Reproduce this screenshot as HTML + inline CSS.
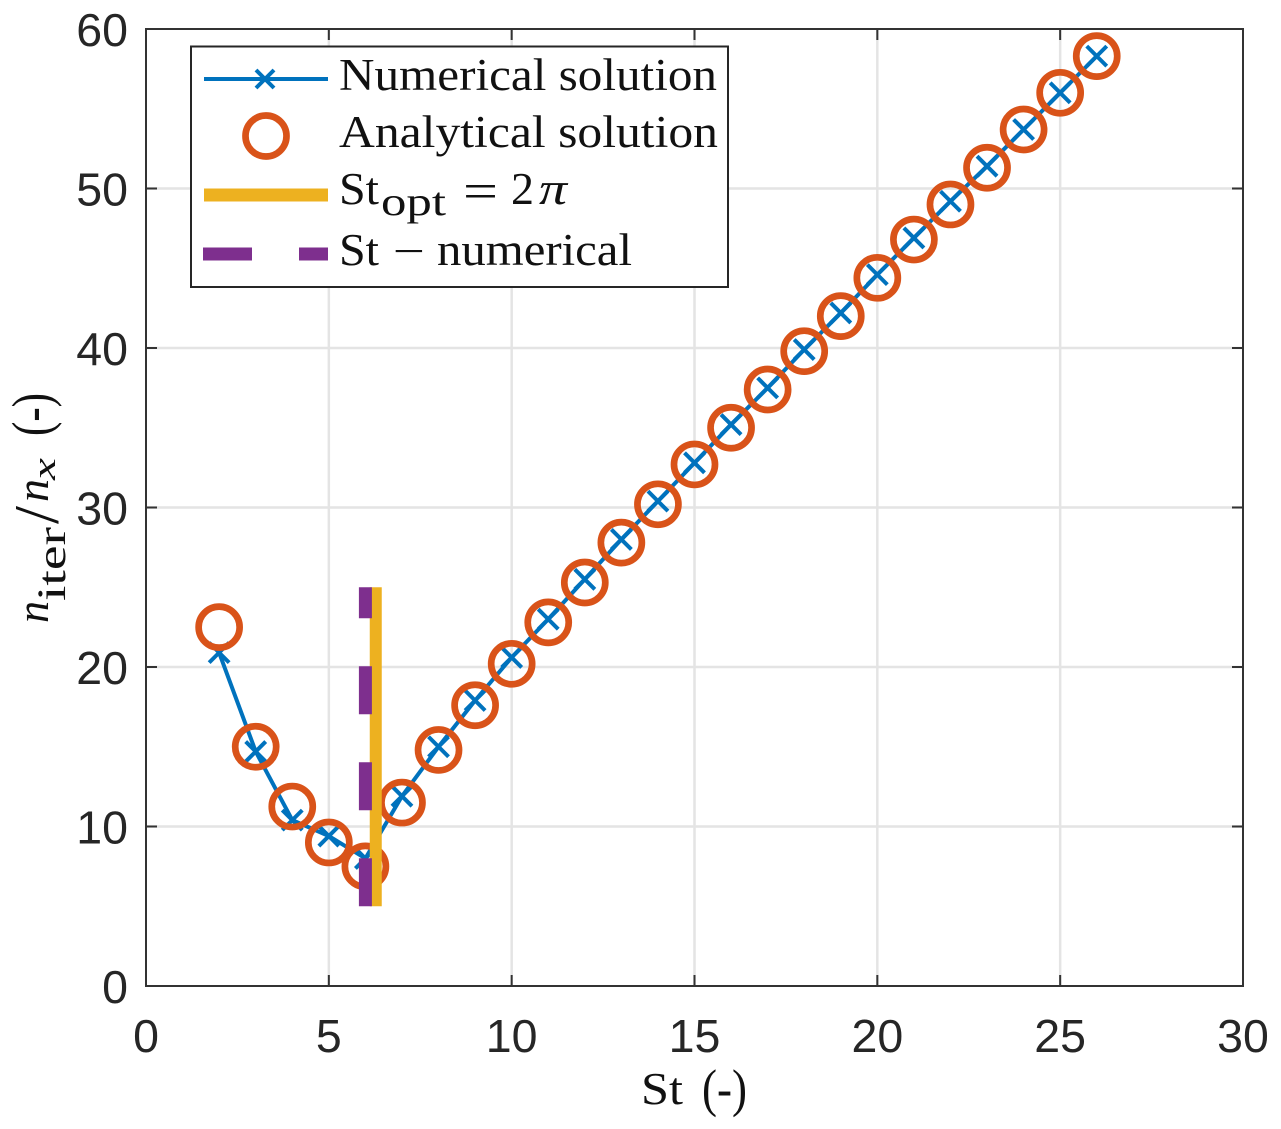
<!DOCTYPE html>
<html>
<head>
<meta charset="utf-8">
<style>
html,body{margin:0;padding:0;background:#fff;}
svg{display:block;}
.tick{font-family:"Liberation Sans",sans-serif;font-size:46.5px;fill:#262626;}
.tex{font-family:"Liberation Serif",serif;fill:#111;}
</style>
</head>
<body>
<svg id="chart" xmlns="http://www.w3.org/2000/svg" width="1281" height="1129" viewBox="0 0 1281 1129">
  <g id="grid"></g>
  <g id="series"></g>
  <g id="axes"></g>
  <g>
    <text class="tex" x="641" y="1104" font-size="46" textLength="42" lengthAdjust="spacingAndGlyphs">St</text>
    <text class="tex" x="702" y="1106" font-size="53" textLength="45" lengthAdjust="spacingAndGlyphs">(-)</text>
  </g>
  <g transform="translate(48,0) rotate(-90)">
    <text class="tex" x="-623" y="0" font-size="46" font-style="italic" textLength="22" lengthAdjust="spacingAndGlyphs">n</text>
    <text class="tex" x="-601" y="17" font-size="40" textLength="74" lengthAdjust="spacingAndGlyphs">iter</text>
    <text class="tex" x="-524" y="10" font-size="64" textLength="18" lengthAdjust="spacingAndGlyphs">/</text>
    <text class="tex" x="-502" y="0" font-size="46" font-style="italic" textLength="23" lengthAdjust="spacingAndGlyphs">n</text>
    <text class="tex" x="-480" y="7" font-size="33" font-style="italic" textLength="22" lengthAdjust="spacingAndGlyphs">x</text>
    <text class="tex" x="-436" y="2" font-size="55" textLength="43" lengthAdjust="spacingAndGlyphs">(-)</text>
  </g>
  <g>
    <rect x="191" y="46.5" width="537" height="240.5" fill="#fff" stroke="#262626" stroke-width="2"/>
    <g>
      <line x1="204" y1="79" x2="328" y2="79" stroke="#0072BD" stroke-width="4"/>
      <path d="M256 70L274 88M274 70L256 88" stroke="#0072BD" stroke-width="4" fill="none"/>
      <text class="tex" x="339" y="90" font-size="45" textLength="378" lengthAdjust="spacingAndGlyphs">Numerical solution</text>
    </g>
    <g>
      <circle cx="266" cy="136" r="20.5" fill="none" stroke="#D95319" stroke-width="6.7"/>
      <text class="tex" x="339" y="147" font-size="45" textLength="379" lengthAdjust="spacingAndGlyphs">Analytical solution</text>
    </g>
    <g>
      <line x1="204" y1="195" x2="328" y2="195" stroke="#EDB120" stroke-width="13"/>
      <text class="tex" x="339" y="204" font-size="46" textLength="40" lengthAdjust="spacingAndGlyphs">St</text>
      <text class="tex" x="381" y="215" font-size="40" textLength="65" lengthAdjust="spacingAndGlyphs">opt</text>
      <text class="tex" x="463" y="208" font-size="50" textLength="35" lengthAdjust="spacingAndGlyphs">=</text>
      <text class="tex" x="511" y="204" font-size="46" textLength="23" lengthAdjust="spacingAndGlyphs">2</text>
      <text class="tex" x="539" y="204" font-size="46" font-style="italic" textLength="28" lengthAdjust="spacingAndGlyphs">π</text>
    </g>
    <g>
      <line x1="203" y1="254" x2="252" y2="254" stroke="#7E2F8E" stroke-width="13"/>
      <line x1="299" y1="254" x2="328" y2="254" stroke="#7E2F8E" stroke-width="13"/>
      <text class="tex" x="339" y="265" font-size="46" textLength="40" lengthAdjust="spacingAndGlyphs">St</text>
      <text class="tex" x="393" y="266" font-size="45" textLength="32" lengthAdjust="spacingAndGlyphs">−</text>
      <text class="tex" x="437" y="265" font-size="45" textLength="195" lengthAdjust="spacingAndGlyphs">numerical</text>
    </g>
  </g>
</svg>
<script>
const xTickLabels = [0, 5, 10, 15, 20, 25, 30];
const yTickLabels = [0, 10, 20, 30, 40, 50, 60];
const stValues = [2, 3, 4, 5, 6, 7, 8, 9, 10, 11, 12, 13, 14, 15, 16, 17, 18, 19, 20, 21, 22, 23, 24, 25, 26];
const numericalValues = [20.9, 14.7, 10.4, 9.4, 8.0, 11.9, 15.0, 17.9, 20.6, 23.0, 25.5, 28.0, 30.4, 32.8, 35.2, 37.5, 39.9, 42.2, 44.6, 46.9, 49.2, 51.4, 53.7, 56.0, 58.3];
const analyticalValues = [22.5, 15.0, 11.25, 9.0, 7.5, 11.5, 14.8, 17.6, 20.2, 22.8, 25.3, 27.8, 30.2, 32.7, 35.0, 37.4, 39.8, 42.0, 44.4, 46.8, 49.0, 51.3, 53.7, 56.0, 58.3];
const stOptimal = 6.283;
const stNumerical = 6;
const verticalRange = [5, 25];

const NS = 'http://www.w3.org/2000/svg';
const sx = v => 146 + (v / 30) * 1097;
const sy = v => 986 - (v / 60) * 957;
function mk(parent, tag, attrs) {
  const el = document.createElementNS(NS, tag);
  for (const k in attrs) el.setAttribute(k, attrs[k]);
  parent.appendChild(el);
  return el;
}
const grid = document.getElementById('grid');
const axes = document.getElementById('axes');
const series = document.getElementById('series');

xTickLabels.forEach(t => {
  const x = sx(t);
  if (t > 0 && t < 30) {
    const g = mk(grid, 'line', {x1: x, y1: sy(0), x2: x, y2: sy(60), stroke: '#e4e4e4', 'stroke-width': 2.5});
    
    
  }
  const a = mk(axes, 'line', {x1: x, y1: sy(0), x2: x, y2: sy(0) - 11, stroke: '#333', 'stroke-width': 2});
  
  
  const b = mk(axes, 'line', {x1: x, y1: sy(60), x2: x, y2: sy(60) + 11, stroke: '#333', 'stroke-width': 2});
  
  
  const l = mk(axes, 'text', {x: x, y: 1052, 'text-anchor': 'middle', class: 'tick'});
  
  
  l.textContent = t;
});
yTickLabels.forEach(t => {
  const y = sy(t);
  if (t > 0 && t < 60) {
    const g = mk(grid, 'line', {x1: sx(0), y1: y, x2: sx(30), y2: y, stroke: '#e4e4e4', 'stroke-width': 2.5});
    
    
  }
  const a = mk(axes, 'line', {x1: sx(0), y1: y, x2: sx(0) + 11, y2: y, stroke: '#333', 'stroke-width': 2});
  
  
  const b = mk(axes, 'line', {x1: sx(30), y1: y, x2: sx(30) - 11, y2: y, stroke: '#333', 'stroke-width': 2});
  
  
  const l = mk(axes, 'text', {x: 128, y: y + 17, 'text-anchor': 'end', class: 'tick'});
  
  
  l.textContent = t;
});
const frame = mk(axes, 'rect', {x: sx(0), y: sy(60), width: sx(30) - sx(0), height: sy(0) - sy(60), fill: 'none', stroke: '#333', 'stroke-width': 2});



const numLine = mk(series, 'polyline', {
  points: stValues.map((s, i) => sx(s) + ',' + sy(numericalValues[i])).join(' '),
  fill: 'none', stroke: '#0072BD', 'stroke-width': 4
});


stValues.forEach((s, i) => {
  const cx = sx(s), cy = sy(numericalValues[i]), r = 10;
  const m = mk(series, 'path', {
    d: 'M' + (cx - r) + ' ' + (cy - r) + 'L' + (cx + r) + ' ' + (cy + r) + 'M' + (cx + r) + ' ' + (cy - r) + 'L' + (cx - r) + ' ' + (cy + r),
    fill: 'none', stroke: '#0072BD', 'stroke-width': 4
  });
  
  
});
stValues.forEach((s, i) => {
  const c = mk(series, 'circle', {cx: sx(s), cy: sy(analyticalValues[i]), r: 20.5, fill: 'none', stroke: '#D95319', 'stroke-width': 6.7});
  
  
});
const optLine = mk(series, 'line', {x1: sx(stOptimal), y1: sy(verticalRange[0]), x2: sx(stOptimal), y2: sy(verticalRange[1]), stroke: '#EDB120', 'stroke-width': 12});


const numVLine = mk(series, 'line', {x1: sx(stNumerical), y1: sy(verticalRange[0]), x2: sx(stNumerical), y2: sy(verticalRange[1]), stroke: '#7E2F8E', 'stroke-width': 13, 'stroke-dasharray': '48 48'});


</script>
</body>
</html>
